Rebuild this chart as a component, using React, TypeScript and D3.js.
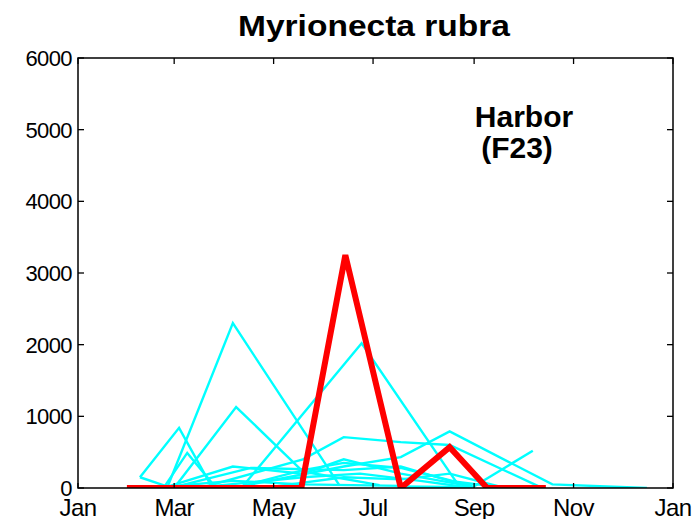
import React from "react";
import * as d3 from "d3";

const monthLabels = ["Jan", "Mar", "May", "Jul", "Sep", "Nov", "Jan"];
const monthTicks = [
  new Date(2001, 0, 1), new Date(2001, 2, 1), new Date(2001, 4, 1),
  new Date(2001, 6, 1), new Date(2001, 8, 1), new Date(2001, 10, 1), new Date(2002, 0, 1),
];
const yTicks = [0, 1000, 2000, 3000, 4000, 5000, 6000];

// Background (other years) series: day-of-year, value
const cyanDays: number[][] = [
  [38, 62, 82],
  [38, 55, 95, 138, 198],
  [55, 95, 160],
  [60, 97, 138, 185],
  [101, 174, 234],
  [75, 138, 163, 198, 228, 283],
  [106, 163, 198, 228, 291, 349],
  [198, 242, 279],
  [55, 95, 138, 163, 198, 242],
  [60, 106, 163, 198, 228, 259],
  [75, 138, 173, 210, 242],
  [53, 67, 84],
  [101, 138, 163, 198, 242],
  [120, 163, 198, 228, 260],
];
const cyanValues: number[][] = [
  [150, 840, 20],
  [150, 20, 100, 50, 30],
  [20, 2300, 50],
  [30, 1130, 230, 40],
  [20, 2020, 20],
  [0, 400, 710, 640, 600, 20],
  [50, 300, 430, 790, 50, 0],
  [20, 10, 520],
  [20, 300, 200, 400, 200, 20],
  [20, 280, 250, 300, 100, 10],
  [10, 150, 200, 100, 0],
  [20, 490, 20],
  [30, 250, 350, 280, 30],
  [20, 150, 120, 200, 10],
];

// Highlighted series (red)
const redDays = [30, 137, 164, 198, 228, 251, 287];
const redValues = [0, 0, 3250, 0, 570, 0, 0];

const title = "Myrionecta rubra";
const stationLine1 = "Harbor";
const stationLine2 = "(F23)";

const left = 78, right = 673, top = 58, bottom = 488;
const base = new Date(2001, 0, 1);
const toDate = (d: number) => d3.timeDay.offset(base, d);

export default function App() {
  const x = d3.scaleTime().domain([new Date(2001, 0, 1), new Date(2002, 0, 1)]).range([left, right]);
  const y = d3.scaleLinear().domain([0, 6000]).range([bottom, top]);
  const line = d3
    .line<[number, number]>()
    .x((p) => x(toDate(p[0])))
    .y((p) => y(p[1]));

  const font = "'Liberation Sans', Arial, sans-serif";

  return (
    <svg width={700} height={519} style={{ position: "absolute", left: 0, top: 0, background: "#fff" }}>
      <rect x={0} y={0} width={700} height={519} fill="#fff" />
      <defs>
        <clipPath id="clip">
          <rect x={left} y={top} width={right - left} height={bottom - top} />
        </clipPath>
      </defs>
      <g clipPath="url(#clip)">
        {cyanDays.map((ds, i) => (
          <path
            key={i}
            d={line(ds.map((d, j) => [d, cyanValues[i][j]] as [number, number])) || ""}
            fill="none"
            stroke="#00FFFF"
            strokeWidth={2.4}
          />
        ))}
        <path
          d={line(redDays.map((d, j) => [d, redValues[j]] as [number, number])) || ""}
          fill="none"
          stroke="#FF0000"
          strokeWidth={6}
          strokeMiterlimit={4}
        />
      </g>
      <rect x={left} y={top} width={right - left} height={bottom - top} fill="none" stroke="#000" strokeWidth={1.5} />
      {yTicks.map((t) => (
        <g key={"y" + t}>
          <line x1={left} x2={left + 6} y1={y(t)} y2={y(t)} stroke="#000" strokeWidth={1.3} />
          <line x1={right} x2={right - 6} y1={y(t)} y2={y(t)} stroke="#000" strokeWidth={1.3} />
          <text
            x={72}
            y={y(t)}
            dy="0.36em"
            textAnchor="end"
            fontFamily={font}
            fontSize={22}
            letterSpacing={-0.6}
            fill="#000"
          >
            {t}
          </text>
        </g>
      ))}
      {monthTicks.map((t, i) => (
        <g key={"x" + i}>
          <line x1={x(t)} x2={x(t)} y1={bottom} y2={bottom - 5} stroke="#000" strokeWidth={1.3} />
          <line x1={x(t)} x2={x(t)} y1={top} y2={top + 6} stroke="#000" strokeWidth={1.3} />
          <text
            x={x(t)}
            y={516}
            textAnchor="middle"
            fontFamily={font}
            fontSize={24}
            letterSpacing={-0.6}
            fill="#000"
          >
            {monthLabels[i]}
          </text>
        </g>
      ))}
      <text x={374} y={36} textAnchor="middle" fontFamily={font} fontSize={30} fontWeight="bold" textLength={272} lengthAdjust="spacingAndGlyphs">
        {title}
      </text>
      <text x={524} y={127} textAnchor="middle" fontFamily={font} fontSize={30} fontWeight="bold">
        {stationLine1}
      </text>
      <text x={517} y={158} textAnchor="middle" fontFamily={font} fontSize={30} fontWeight="bold">
        {stationLine2}
      </text>
    </svg>
  );
}
